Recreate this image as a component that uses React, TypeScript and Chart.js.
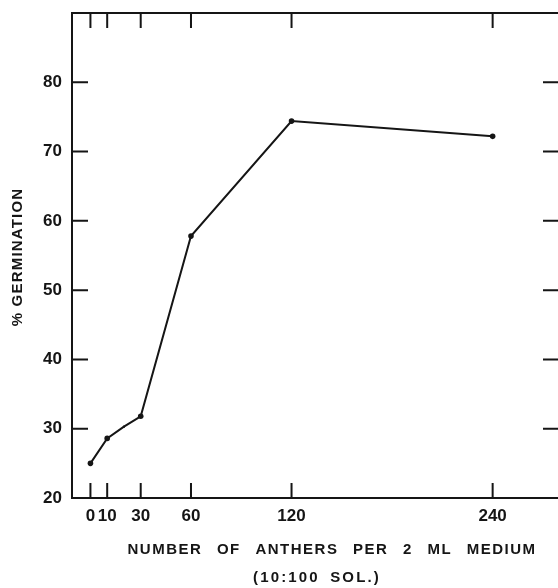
import { useEffect, useRef } from 'react';
import { Chart, registerables } from 'chart.js';

Chart.register(...registerables);

const anthers = [0, 10, 20, 30, 60, 120, 240];
const germination = [25.0, 28.6, 30.3, 31.8, 57.8, 74.4, 72.2];
const xTickValues = [0, 10, 30, 60, 120, 240];
const yTickValues = [20, 30, 40, 50, 60, 70, 80];
const yTitle = '% GERMINATION';
const xTitleLines = ['NUMBER OF ANTHERS PER 2 ML MEDIUM', '(10:100 SOL.)'];

const INK = '#151515';
const FONT = '"Liberation Sans", Arial, sans-serif';

const framePlugin = {
  id: 'frame',
  afterDraw(chart: any) {
    const { ctx, chartArea, scales } = chart;
    const { left, right, top, bottom } = chartArea;
    const x = scales.x;
    const y = scales.y;
    ctx.save();
    ctx.strokeStyle = INK;
    ctx.lineWidth = 2;
    ctx.lineCap = 'butt';
    ctx.beginPath();
    ctx.moveTo(left - 1, top);
    ctx.lineTo(right, top);
    for (const v of xTickValues) {
      const px = x.getPixelForValue(v);
      ctx.moveTo(px, top);
      ctx.lineTo(px, top + 15);
      ctx.moveTo(px, bottom);
      ctx.lineTo(px, bottom - 15);
    }
    for (const v of yTickValues) {
      if (v <= y.min) continue;
      const py = y.getPixelForValue(v);
      ctx.moveTo(left, py);
      ctx.lineTo(left + 16, py);
      ctx.moveTo(right - 15, py);
      ctx.lineTo(right, py);
    }
    ctx.stroke();

    // axis titles
    ctx.fillStyle = INK;
    ctx.font = `bold 15px ${FONT}`;
    ctx.textBaseline = 'middle';
    ctx.textAlign = 'center';
    const cx = (left + right) / 2;

    // first line: fixed letter spacing, word gaps stretched to the target width
    const l1 = xTitleLines[0];
    ctx.letterSpacing = '1.5px';
    ctx.wordSpacing = '0px';
    const w1 = ctx.measureText(l1).width;
    const sp1 = (l1.match(/ /g) || []).length;
    ctx.wordSpacing = `${Math.max(0, (409 - w1) / sp1)}px`;
    ctx.fillText(l1, cx + 17, bottom + 52);

    // second line: fixed word gap, letters spaced to the target width
    const l2 = xTitleLines[1];
    ctx.letterSpacing = '0px';
    ctx.wordSpacing = '4px';
    const w2 = ctx.measureText(l2).width;
    ctx.letterSpacing = `${Math.max(0, (128 - w2) / l2.length)}px`;
    ctx.fillText(l2, cx + 2, bottom + 80);

    ctx.save();
    ctx.translate(18, 257);
    ctx.rotate(-Math.PI / 2);
    ctx.letterSpacing = '1.2px';
    ctx.wordSpacing = '0px';
    ctx.fillText(yTitle, 0, 0);
    ctx.restore();

    ctx.restore();
  },
};

export default function App() {
  const ref = useRef<HTMLCanvasElement | null>(null);

  useEffect(() => {
    if (!ref.current) return;
    const tickFont = { family: FONT, size: 17, weight: 'bold' as const };
    const zeroPad = (s: any) => {
      s.paddingTop = 0;
      s.paddingBottom = 0;
      s.paddingLeft = 0;
      s.paddingRight = 0;
    };
    const chart = new Chart(ref.current, {
      type: 'line',
      data: {
        datasets: [
          {
            data: anthers.map((v, i) => ({ x: v, y: germination[i] })),
            borderColor: INK,
            borderWidth: 2,
            pointBackgroundColor: INK,
            pointBorderWidth: 0,
            pointRadius: (c: any) => (c.dataIndex === 2 ? 1.2 : 2.8),
            tension: 0,
          },
        ],
      },
      options: {
        animation: false,
        responsive: false,
        events: [],
        layout: { autoPadding: false, padding: { top: 13, right: 0, left: 0, bottom: 0 } },
        plugins: { legend: { display: false }, tooltip: { enabled: false } },
        scales: {
          x: {
            type: 'linear',
            min: -11,
            max: 279,
            afterBuildTicks: (s: any) => {
              s.ticks = xTickValues.map((value) => ({ value }));
            },
            afterFit: (s: any) => {
              s.height = 90;
              zeroPad(s);
            },
            ticks: {
              font: tickFont,
              color: INK,
              padding: 8,
              autoSkip: false,
              maxRotation: 0,
              callback: (v: any) => String(v),
            },
            grid: { display: false, drawTicks: false },
            border: { display: true, color: INK, width: 2 },
          },
          y: {
            type: 'linear',
            min: 20,
            max: 90,
            afterBuildTicks: (s: any) => {
              s.ticks = yTickValues.map((value) => ({ value }));
            },
            afterFit: (s: any) => {
              s.width = 72;
              zeroPad(s);
            },
            ticks: {
              font: tickFont,
              color: INK,
              padding: 10,
              autoSkip: false,
              callback: (v: any) => String(v),
            },
            grid: { display: false, drawTicks: false },
            border: { display: true, color: INK, width: 2 },
          },
        },
      },
      plugins: [framePlugin],
    } as any);
    return () => chart.destroy();
  }, []);

  return (
    <div style={{ position: 'fixed', left: 0, top: 0, width: 558, height: 588, background: '#fff' }}>
      <canvas ref={ref} width={558} height={588} style={{ display: 'block' }} />
    </div>
  );
}
